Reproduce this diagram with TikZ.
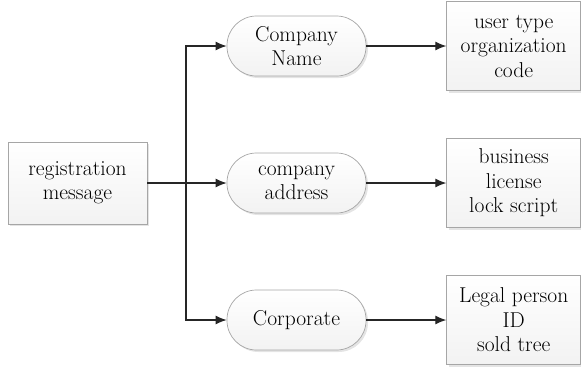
\documentclass[tikz,border=0pt]{standalone}
\usepackage{tikz}
\usetikzlibrary{arrows.meta,positioning,shadows}
\tikzset{
  msgbox/.style = {draw=gray!70, line width=0.7pt, top color=white, bottom color=gray!10,
                   drop shadow={shadow xshift=2pt, shadow yshift=-2pt, fill=gray!35, opacity=0.6},
                   align=center, inner sep=3pt, font=\fontsize{21.5}{24.5}\selectfont},
  pill/.style   = {msgbox, rounded corners=29.5pt, minimum width=139pt, minimum height=60pt},
  infobox/.style= {msgbox, minimum width=134pt, minimum height=89pt},
  flow/.style   = {-{Latex[length=11pt,width=9pt]}, draw=black!85, line width=1.2pt},
}
\begin{document}
\begin{tikzpicture}[x=1pt, y=-1pt, node distance=80pt]
\useasboundingbox (0,0) rectangle (581,368);

% ---------------- source and fields ---------------------------------
\node[msgbox, minimum width=139pt, minimum height=82pt] (reg) at (77.5,183)
  {registration\\message};

\node[pill] (name) at (296.5,46)  {Company\\Name};
\node[pill] (addr) at (296.5,183) {company\\address};
\node[pill] (corp) at (296.5,320) {Corporate};

\coordinate (split) at (186,183);

% ---------------- what each field holds ----------------------------
\node[infobox, right=of name] (code)  {user type\\organization\\code};
\node[infobox, right=of addr] (lic)   {business\\license\\lock script};
\node[infobox, right=of corp] (legal) {Legal person\\ID\\sold tree};

\draw[flow] (reg) -- (addr);
\draw[flow] (split) |- (name);
\draw[flow] (split) |- (corp);

\foreach \i/\j in {name/code, addr/lic, corp/legal}
  \draw[flow] (\i) -- (\j);

\end{tikzpicture}
\end{document}
